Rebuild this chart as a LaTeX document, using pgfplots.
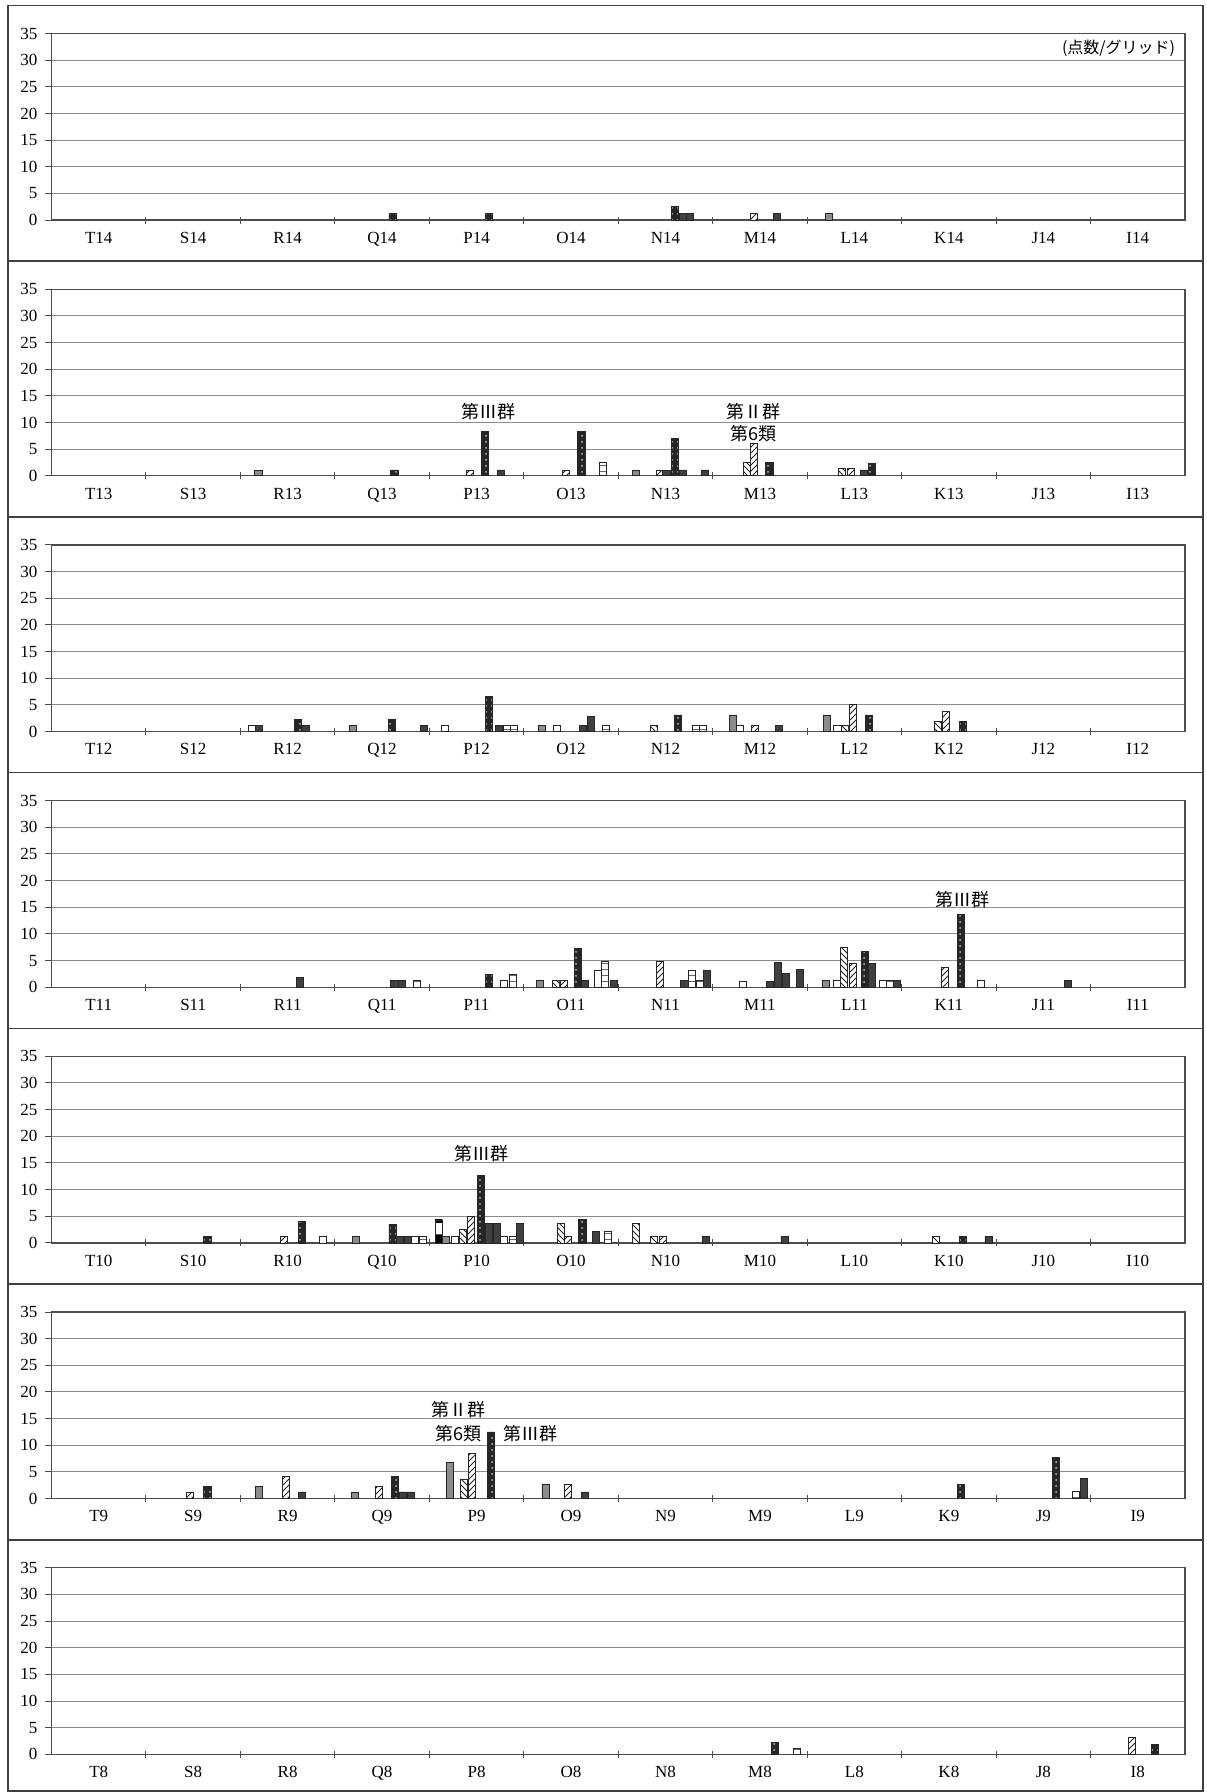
\documentclass[border=0pt]{standalone}
\usepackage{pgfplots}
\pgfplotsset{compat=1.18}
\usepackage{fontspec}
\setmainfont{Liberation Serif}
\newfontfamily\jp{Noto Sans CJK JP}
\usetikzlibrary{patterns}
\pgfplotsset{
  panel/.style={width=566.75pt, height=93.3pt, scale only axis, anchor=south west,
    xmin=0, xmax=12, ymin=0, ymax=35, ytick={0,5,...,35},
    xtick={1,2,3,4,5,6,7,8,9,10,11}, xticklabels={,,,,,,,,,,},
    extra x ticks={0.5,1.5,2.5,3.5,4.5,5.5,6.5,7.5,8.5,9.5,10.5,11.5},
    extra x tick style={major tick length=0pt},
    tick pos=left,
    ymajorgrids, grid style={black!45, line width=0.5pt},
    axis line style={black!70, line width=0.6pt},
    ytick align=outside, xtick align=center, major tick length=3.5pt,
    tick style={black!70, line width=0.5pt},
    ticklabel style={font=\fontsize{8.5}{10}\selectfont},
    xticklabel style={yshift=-2.5pt},
    /pgf/number format/assume math mode=true, clip=false},
  bb/.style={ybar, bar shift=0pt, bar width=0.075, draw=black!85, line width=0.4pt},
  G/.style={bb, fill=black!45},
  W/.style={bb, fill=white},
  NE/.style={bb, fill=white, postaction={pattern=north east lines, pattern color=black!85}},
  NW/.style={bb, fill=white, postaction={pattern=north west lines, pattern color=black!85}},
  D/.style={bb, fill=black!85, postaction={pattern=dots, pattern color=black!25}},
  K/.style={bb, fill=black!75},
  L/.style={bb, fill=white, postaction={pattern=horizontal lines, pattern color=black!60}},
  C/.style={bb, fill=white, postaction={pattern=checkerboard, pattern color=black}},
}
\newcommand{\ann}{\jp\fontsize{9}{10}\selectfont}
\begin{document}
\begin{tikzpicture}
\fill[white] (0,0) rectangle (603pt,-896pt);
\begin{scope}[black!75, line width=0.8pt]
\draw (4pt,-2.75pt) rectangle (601.5pt,-130.6pt);
\draw (4pt,-130.6pt) rectangle (601.5pt,-258.45pt);
\draw (4pt,-258.45pt) rectangle (601.5pt,-386.3pt);
\draw (4pt,-386.3pt) rectangle (601.5pt,-514.15pt);
\draw (4pt,-514.15pt) rectangle (601.5pt,-642.0pt);
\draw (4pt,-642.0pt) rectangle (601.5pt,-769.85pt);
\draw (4pt,-769.85pt) rectangle (601.5pt,-895.5pt);
\end{scope}

% ---------- 14 ----------
\begin{axis}[panel, at={(25.75pt,-110.05pt)},
  extra x tick labels={T14,S14,R14,Q14,P14,O14,N14,M14,L14,K14,J14,I14}]
\addplot[D] coordinates {(3.61,1.2) (4.63,1.2) (6.60,2.5)};
\addplot[K] coordinates {(6.68,1.2) (6.76,1.2) (7.68,1.2)};
\addplot[NE] coordinates {(7.44,1.2)};
\addplot[G] coordinates {(8.23,1.2)};
\node[anchor=east, font=\jp\fontsize{8}{10}\selectfont] at (axis cs:11.97,32.2) {(点数/グリッド)};
\end{axis}

% ---------- 13 ----------
\begin{axis}[panel, at={(25.75pt,-237.9pt)},
  extra x tick labels={T13,S13,R13,Q13,P13,O13,N13,M13,L13,K13,J13,I13}]
\addplot[G] coordinates {(2.19,1.0) (6.19,1.1)};
\addplot[D] coordinates {(3.63,1.1) (4.59,8.4) (5.61,8.3) (6.60,7.0) (7.60,2.5) (8.69,2.4)};
\addplot[NE] coordinates {(4.43,1.1) (5.45,1.1) (6.44,1.1) (7.44,6.1) (8.46,1.3)};
\addplot[NW] coordinates {(7.36,2.5) (8.37,1.3)};
\addplot[K] coordinates {(4.76,1.1) (6.51,1.0) (6.68,1.1) (6.92,1.1) (8.60,1.1)};
\addplot[L] coordinates {(5.84,2.5)};
\node[font=\ann] at (axis cs:4.63,12.1) {第Ⅲ群};
\node[font=\ann] at (axis cs:7.43,12.1) {第Ⅱ群};
\node[font=\ann] at (axis cs:7.43,7.9) {第6類};
\end{axis}

% ---------- 12 ----------
\begin{axis}[panel, at={(25.75pt,-365.75pt)},
  extra x tick labels={T12,S12,R12,Q12,P12,O12,N12,M12,L12,K12,J12,I12}]
\addplot[W] coordinates {(2.12,1.2) (4.16,1.2) (5.35,1.2) (7.29,1.2) (8.32,1.2)};
\addplot[K] coordinates {(2.20,1.2) (2.69,1.2) (3.94,1.2) (4.74,1.2) (5.63,1.2) (5.71,2.8) (7.70,1.2)};
\addplot[D] coordinates {(2.61,2.3) (3.60,2.3) (4.63,6.5) (6.63,3.1) (8.65,3.1) (9.65,1.9)};
\addplot[G] coordinates {(3.19,1.2) (5.19,1.2) (7.21,3.1) (8.21,3.1)};
\addplot[L] coordinates {(4.82,1.2) (4.90,1.2) (5.87,1.2) (6.82,1.2) (6.90,1.2)};
\addplot[NW] coordinates {(6.38,1.2) (8.40,1.2) (9.38,1.9)};
\addplot[NE] coordinates {(7.45,1.2) (8.48,5.0) (9.47,3.7)};
\end{axis}

% ---------- 11 ----------
\begin{axis}[panel, at={(25.75pt,-493.6pt)},
  extra x tick labels={T11,S11,R11,Q11,P11,O11,N11,M11,L11,K11,J11,I11}]
\addplot[K] coordinates {(2.63,1.9) (3.63,1.25) (3.71,1.25) (5.65,1.25) (5.95,1.25) (6.70,1.25) (6.94,3.1) (7.61,1.1) (7.69,4.6) (7.77,2.5) (7.92,3.3) (8.69,4.4) (8.95,1.25) (10.76,1.25)};
\addplot[L] coordinates {(3.87,1.25) (4.88,2.4) (5.86,4.8) (6.78,3.1) (6.86,1.25) (8.88,1.25)};
\addplot[D] coordinates {(4.63,2.4) (5.57,7.2) (8.61,6.75) (9.63,13.6)};
\addplot[W] coordinates {(4.79,1.25) (5.78,3.1) (7.32,1.1) (8.32,1.25) (8.80,1.25) (9.84,1.25)};
\addplot[G] coordinates {(5.17,1.25) (8.20,1.25)};
\addplot[NW] coordinates {(5.34,1.25) (8.39,7.5)};
\addplot[NE] coordinates {(5.42,1.25) (6.44,4.8) (8.48,4.4) (9.46,3.75)};
\node[font=\ann] at (axis cs:9.64,16.5) {第Ⅲ群};
\end{axis}

% ---------- 10 ----------
\begin{axis}[panel, at={(25.75pt,-621.45pt)},
  extra x tick labels={T10,S10,R10,Q10,P10,O10,N10,M10,L10,K10,J10,I10}]
\addplot[D] coordinates {(1.65,1.25) (2.65,4.0) (3.61,3.4) (4.55,12.7) (5.62,4.4) (9.65,1.25)};
\addplot[NE] coordinates {(2.46,1.25) (4.44,5.0) (5.47,1.25) (6.47,1.25)};
\addplot[W] coordinates {(2.87,1.25) (3.85,1.25) (4.27,1.25) (4.79,1.25)};
\addplot[G] coordinates {(3.22,1.25) (4.18,1.25)};
\addplot[K] coordinates {(3.69,1.25) (3.77,1.25) (4.63,3.6) (4.72,3.6) (4.96,3.6) (5.76,2.1) (6.93,1.25) (7.76,1.25) (9.92,1.25)};
\addplot[L] coordinates {(3.93,1.25) (4.88,1.25) (5.89,2.1)};
\addplot[C] coordinates {(4.10,4.3)};
\addplot[NW] coordinates {(4.36,2.6) (5.39,3.6) (6.19,3.6) (6.38,1.25) (9.36,1.25)};
\node[font=\ann] at (axis cs:4.55,16.8) {第Ⅲ群};
\end{axis}

% ---------- 9 ----------
\begin{axis}[panel, at={(25.75pt,-749.3pt)},
  extra x tick labels={T9,S9,R9,Q9,P9,O9,N9,M9,L9,K9,J9,I9}]
\addplot[NE] coordinates {(1.47,1.25) (2.48,4.1) (3.47,2.3) (4.45,8.4) (5.47,2.75)};
\addplot[D] coordinates {(1.65,2.3) (3.64,4.1) (4.65,12.5) (9.63,2.7) (10.63,7.8)};
\addplot[G] coordinates {(2.20,2.3) (3.21,1.25) (4.22,6.7) (5.23,2.75)};
\addplot[K] coordinates {(2.65,1.25) (3.72,1.25) (3.80,1.25) (5.65,1.25) (10.93,3.8)};
\addplot[NW] coordinates {(4.37,3.6)};
\addplot[L] coordinates {(10.84,1.3)};
\node[font=\ann] at (axis cs:4.31,16.6) {第Ⅱ群};
\node[font=\ann] at (axis cs:4.31,12.1) {第6類};
\node[font=\ann] at (axis cs:5.07,12.1) {第Ⅲ群};
\end{axis}

% ---------- 8 ----------
\begin{axis}[panel, at={(25.75pt,-877.15pt)},
  extra x tick labels={T8,S8,R8,Q8,P8,O8,N8,M8,L8,K8,J8,I8}]
\addplot[D] coordinates {(7.66,2.3) (11.68,1.9)};
\addplot[L] coordinates {(7.89,1.2)};
\addplot[NE] coordinates {(11.44,3.1)};
\end{axis}
\end{tikzpicture}
\end{document}
